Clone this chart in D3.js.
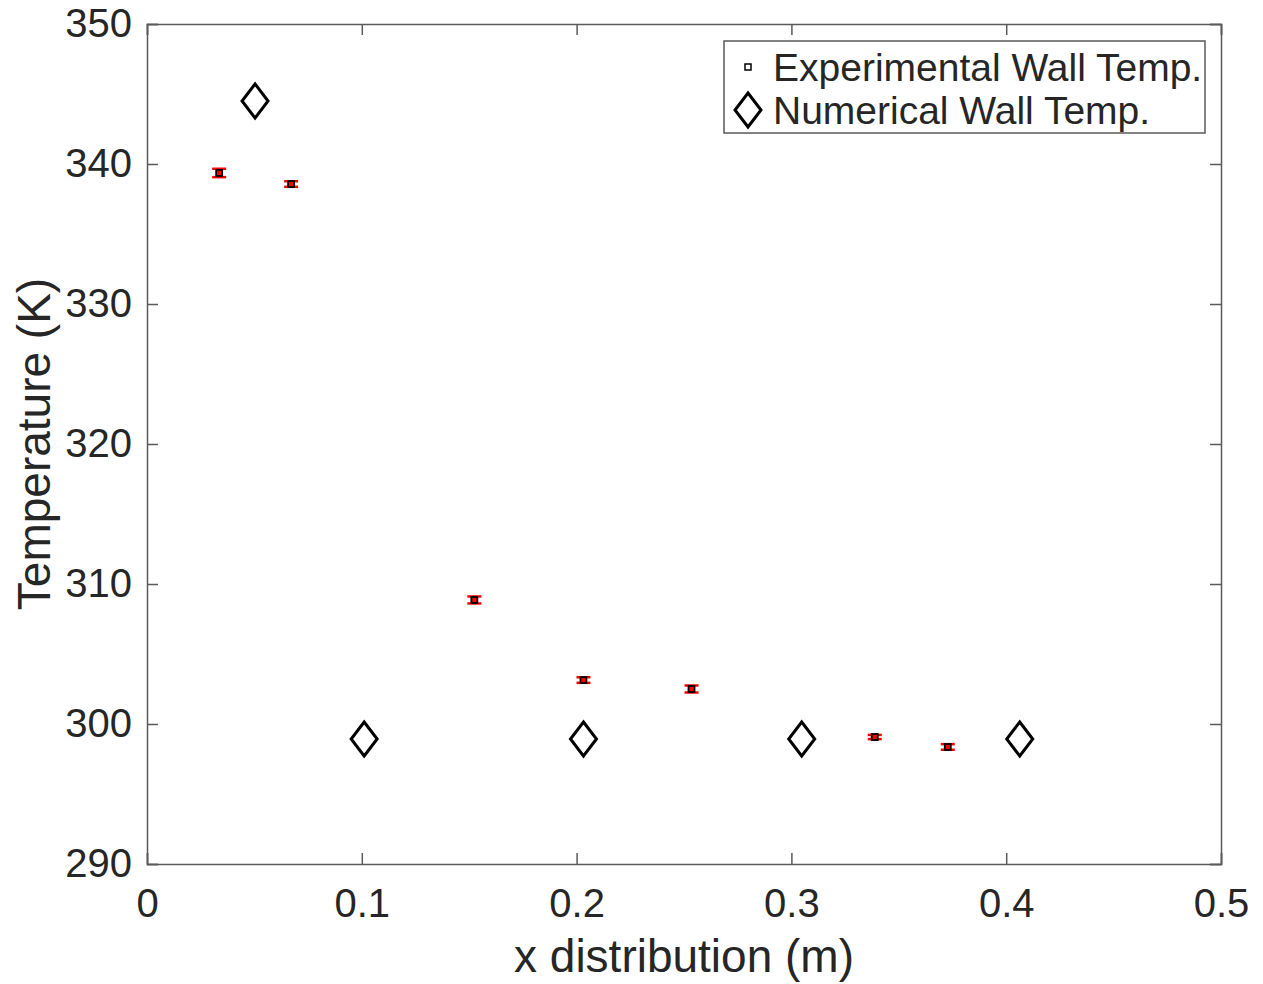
<!DOCTYPE html>
<html>
<head>
<meta charset="utf-8">
<script src="https://cdn.jsdelivr.net/npm/d3@7"></script>
<style>
    body { margin: 0; background: #fff; }
    text { font-family: "Liberation Sans", Arial, sans-serif; fill: #262626; }
</style>
</head>
<body>
<div id="chart"></div>
<script>
// experimental wall temperature (with error)
var expX = [0.0336, 0.0671, 0.1524, 0.2032, 0.2535, 0.3388, 0.3728];
var expY = [339.36, 338.57, 308.86, 303.14, 302.5, 299.07, 298.36];
var expErr = [0.3, 0.2, 0.25, 0.2, 0.25, 0.15, 0.2];

// numerical wall temperature
var numX = [0.0503, 0.1011, 0.2032, 0.3048, 0.4063];
var numY = [344.5, 298.93, 298.93, 298.93, 298.93];

var xTicks = [0, 0.1, 0.2, 0.3, 0.4, 0.5];
var yTicks = [290, 300, 310, 320, 330, 340, 350];
var legendLabels = ["Experimental Wall Temp.", "Numerical Wall Temp."];

var width = 1263,
    height = 984,
    margin = {left: 147, right: 42, top: 24, bottom: 120};

var svg = d3.select("#chart").append("svg")
    .attr("width", width)
    .attr("height", height);

var x = d3.scaleLinear().domain([0, 0.5]).range([margin.left, width - margin.right]);
var y = d3.scaleLinear().domain([290, 350]).range([height - margin.bottom, margin.top]);

var axisColor = "#5a5a5a";
var tickLen = 11;

// bottom / left axes with inside ticks
var xAxis = svg.append("g")
    .attr("transform", "translate(0," + y(290) + ")")
    .call(d3.axisBottom(x).tickValues(xTicks).tickSize(-tickLen).tickPadding(tickLen + 14)
        .tickFormat(function (d) { return d === 0 ? "0" : d3.format(".1f")(d); }));

var yAxis = svg.append("g")
    .attr("transform", "translate(" + x(0) + ",0)")
    .call(d3.axisLeft(y).tickValues(yTicks).tickSize(-tickLen).tickPadding(tickLen + 4));

// top / right axes, ticks only
var xTop = svg.append("g")
    .attr("transform", "translate(0," + y(350) + ")")
    .call(d3.axisTop(x).tickValues(xTicks).tickSize(-tickLen).tickFormat(""));

var yRight = svg.append("g")
    .attr("transform", "translate(" + x(0.5) + ",0)")
    .call(d3.axisRight(y).tickValues(yTicks).tickSize(-tickLen).tickFormat(""));

[xAxis, yAxis, xTop, yRight].forEach(function (g) {
    g.select(".domain").attr("stroke", axisColor).attr("stroke-width", 1.5);
    g.selectAll(".tick line").attr("stroke", axisColor).attr("stroke-width", 1.5);
    g.selectAll(".tick text")
        .attr("font-size", "40px")
        .attr("fill", "#262626")
        .attr("font-family", "Liberation Sans, Arial, sans-serif");
});
xAxis.selectAll(".tick text").attr("dy", "0.71em");

// axis labels
svg.append("text")
    .attr("x", x(0.25))
    .attr("y", 972)
    .attr("text-anchor", "middle")
    .attr("font-size", "46px")
    .text("x distribution (m)");

svg.append("text")
    .attr("transform", "translate(50," + y(320) + ") rotate(-90)")
    .attr("text-anchor", "middle")
    .attr("font-size", "46px")
    .text("Temperature (K)");

// data
var expData = expX.map(function (d, i) { return {x: d, y: expY[i], e: expErr[i]}; });
var numData = numX.map(function (d, i) { return {x: d, y: numY[i]}; });

var diamond = "M0,-17L13,0L0,17L-13,0Z";

var errG = svg.selectAll(".err")
    .data(expData)
    .enter()
    .append("g")
    .attr("class", "err");

errG.append("line")
    .attr("x1", function (d) { return x(d.x); })
    .attr("x2", function (d) { return x(d.x); })
    .attr("y1", function (d) { return y(d.y - d.e); })
    .attr("y2", function (d) { return y(d.y + d.e); })
    .attr("stroke", "red")
    .attr("stroke-width", 2);

[-1, 1].forEach(function (s) {
    errG.append("line")
        .attr("x1", function (d) { return x(d.x) - 7; })
        .attr("x2", function (d) { return x(d.x) + 7; })
        .attr("y1", function (d) { return y(d.y + s * d.e); })
        .attr("y2", function (d) { return y(d.y + s * d.e); })
        .attr("stroke", "red")
        .attr("stroke-width", 2.5);
});

svg.selectAll(".expPt")
    .data(expData)
    .enter()
    .append("rect")
    .attr("class", "expPt")
    .attr("x", function (d) { return x(d.x) - 3; })
    .attr("y", function (d) { return y(d.y) - 3; })
    .attr("width", 6)
    .attr("height", 6)
    .attr("fill", "red")
    .attr("stroke", "#000")
    .attr("stroke-width", 1.8);

svg.selectAll(".numPt")
    .data(numData)
    .enter()
    .append("path")
    .attr("class", "numPt")
    .attr("d", diamond)
    .attr("transform", function (d) { return "translate(" + x(d.x) + "," + y(d.y) + ")"; })
    .attr("fill", "none")
    .attr("stroke", "#000")
    .attr("stroke-width", 3);

// legend
var legend = svg.append("g");
legend.append("rect")
    .attr("x", 724)
    .attr("y", 41)
    .attr("width", 481)
    .attr("height", 92)
    .attr("fill", "#fff")
    .attr("stroke", axisColor)
    .attr("stroke-width", 1.5);

legend.append("rect")
    .attr("x", 745)
    .attr("y", 64)
    .attr("width", 6)
    .attr("height", 6)
    .attr("fill", "none")
    .attr("stroke", "#000")
    .attr("stroke-width", 1.5);

legend.append("path")
    .attr("d", diamond)
    .attr("transform", "translate(748,110)")
    .attr("fill", "none")
    .attr("stroke", "#000")
    .attr("stroke-width", 3);

legend.selectAll(".legText")
    .data(legendLabels)
    .enter()
    .append("text")
    .attr("class", "legText")
    .attr("x", 773)
    .attr("y", function (d, i) { return 81 + i * 43; })
    .attr("font-size", "39px")
    .text(function (d) { return d; });
</script>
</body>
</html>
